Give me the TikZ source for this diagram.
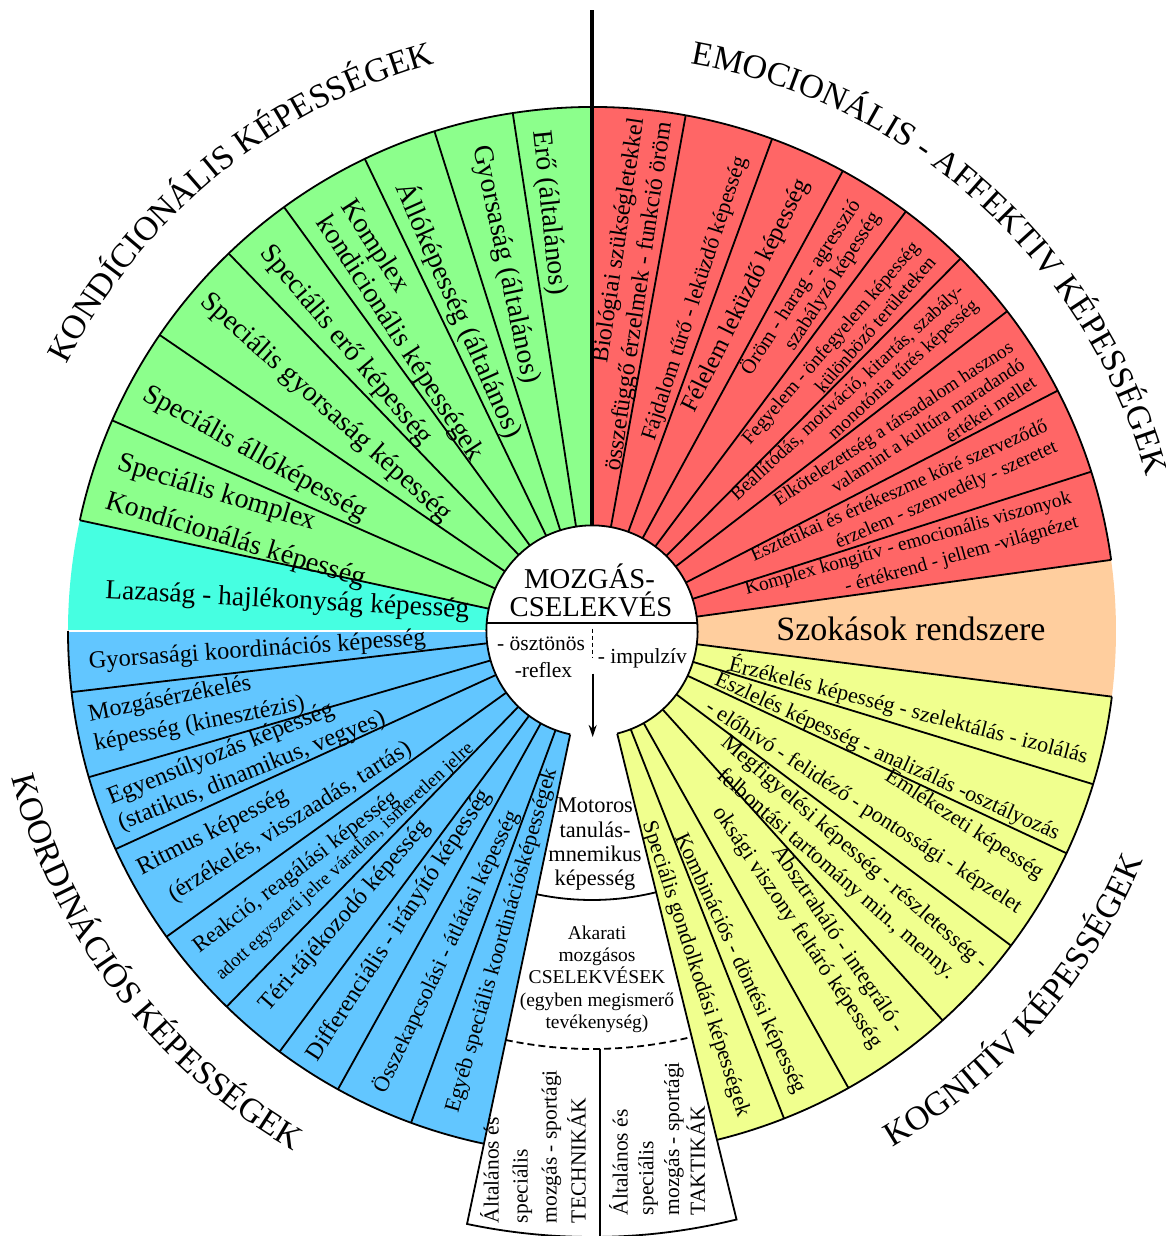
\documentclass[tikz,border=0pt]{standalone}
\usepackage{fontspec}
\setmainfont{Liberation Serif}
\usetikzlibrary{arrows.meta,decorations.text}

\definecolor{kondgreen}{HTML}{8CFF8C}
\definecolor{lazcyan}{HTML}{46FFE1}
\definecolor{koordblue}{HTML}{62C6FF}
\definecolor{kognyellow}{HTML}{F0FF8E}
\definecolor{szokpeach}{HTML}{FFCE9E}
\definecolor{emocred}{HTML}{FF6666}

\newcommand{\fsz}[2]{\fontsize{#1}{#2}\selectfont}

\begin{document}
\begin{tikzpicture}[x=1pt, y=1pt, line width=1.8pt,
    kond/.style={inner sep=0pt, anchor=west, font=\fsz{28}{31}},
    laz/.style={inner sep=0pt, anchor=west, font=\fsz{27.5}{30}},
    emo/.style={inner sep=0pt, anchor=east, align=right, font=\fsz{20}{24}},
    kogn/.style={inner sep=0pt, anchor=east, font=\fsz{22}{26}},
    koor/.style={inner sep=0pt, anchor=west, font=\fsz{24.5}{28}},
    ctr/.style={inner sep=0pt, anchor=base, font=\fsz{21.5}{24}},
    box/.style={inner sep=0pt, anchor=west, rotate=90, align=left},
    arctext/.style={decorate, decoration={text along path, text align=center, text={|\fsz{34}{34}|#1}}}]
  \useasboundingbox (-592,-605) rectangle (574,631);

  % Sectors
  \fill[kondgreen] (0,0) -- (90:524) arc[start angle=90, end angle=167.8, radius=524] -- cycle;
  \fill[lazcyan] (0,0) -- (167.8:524) arc[start angle=167.8, end angle=180, radius=524] -- cycle;
  \fill[koordblue] (0,0) -- (180:524) arc[start angle=180, end angle=258.1, radius=524] -- cycle;
  \fill[kognyellow] (0,0) -- (283.8:524) arc[start angle=283.8, end angle=352.8, radius=524] -- cycle;
  \fill[szokpeach] (0,0) -- (-7.2:524) arc[start angle=-7.2, end angle=7.8, radius=524] -- cycle;
  \fill[emocred] (0,0) -- (7.8:524) arc[start angle=7.8, end angle=90, radius=524] -- cycle;
  \draw[white, line width=2.5pt] (180:100) -- (180:530);

  % Dividers
  \foreach \a in {98.7,107.5,115.7,126,133.9,145.6,156.3,167.8,
                  79.7,69.9,61.4,53.2,45.3,37.6,27.3,17.7,7.8,
                  -7.2,-17,-25.1,-36.9,-48,-60.7,-68.5,
                  186.7,196.2,204.6,215.7,225.8,233.4,241,249.8}
    \draw (\a:105.6) -- (\a:524);
  \draw (7.8:524) arc[start angle=7.8, end angle=167.8, radius=524];
  \draw (180:524) arc[start angle=180, end angle=258.1, radius=524];
  \draw (283.8:524) arc[start angle=283.8, end angle=352.8, radius=524];

  % Column below the centre
  \draw (258.1:105.6) -- (258.1:606) arc[start angle=258.1, end angle=283.8, radius=606] -- (283.8:105.6);
  \draw (258.1:269) arc[start angle=258.1, end angle=283.8, radius=269];
  \draw[dash pattern=on 7pt off 4pt] (258.1:418) arc[start angle=258.1, end angle=283.8, radius=418];
  \draw (8,-418) -- (8,-606);

  % Centre
  \fill[white] (0,0) circle[radius=105.6];
  \draw (283.8:105.6) arc[start angle=-76.2, end angle=258.1, radius=105.6];
  \draw (-105.3,8.3) -- (105.3,8.3);
  \draw[line width=1.5pt, dash pattern=on 4pt off 3pt] (0.7,2.3) -- (0.7,-27);
  \draw[-{Stealth[length=12pt,width=8pt]}] (0.7,-42.7) -- (0.7,-106);
  \draw[line width=4.5pt] (90:105.6) -- (0,621);

  % Nodes
  \node[ctr, font=\fsz{28.7}{30}] (mozg) at (-2.5,42.3) {MOZGÁS-};
  \node[ctr, font=\fsz{28.7}{30}] (csel) at (-1,14) {CSELEKVÉS};
  \node[ctr] (osz) at (-51,-19.3) {- ösztönös};
  \node[ctr] (refl) at (-48.6,-46) {-reflex};
  \node[ctr] (imp) at (50.4,-32) {- impulzív};
  \foreach \t [count=\i] in {Motoros, tanulás-, mnemikus, képesség}
    \node[ctr, font=\fsz{22.4}{25}] (mot\i) at (3,-157.4-24.3*\i) {\t};
  \foreach \t [count=\i] in {Akarati, mozgásos, CSELEKVÉSEK, {(egyben megismerő}, {tevékenység)}}
    \node[ctr, font=\fsz{19.5}{22}] (akar\i) at (5,-286-22.3*\i) {\t};
  \node[box, font=\fsz{21.5}{29}] (tech) at (-59,-593) {Általános és\\speciális\\mozgás - sportági\\TECHNIKÁK};
  \node[box, font=\fsz{21.5}{25.7}] (takt) at (65,-585) {Általános és\\speciális\\mozgás - sportági\\TAKTIKÁK};

  % kondicionális
  \node[kond, rotate=-84] (kond1) at (95.9:504) {Erő (általános)};
  \node[kond, rotate=-78] (kond2) at (103:499) {Gyorsaság (általános)};
  \node[kond, rotate=-66] (kond3) at (112.9:486) {Állóképesség (általános)};
  \node[kond, rotate=-57, align=left, font=\fsz{28}{29}] (kond4) at (121.6:494) {Komplex\\kondicionális képességek};
  \node[kond, rotate=-50] (kond5) at (130.6:504) {Speciális erő képesség};
  \node[kond, rotate=-42] (kond6) at (139.4:512) {Speciális gyorsaság képesség};
  \node[kond, rotate=-29] (kond7) at (152:507) {Speciális állóképesség};
  \node[kond, rotate=-17, align=left, font=\fsz{28}{40}] (kond8) at (162.8:503) {Speciális komplex\\Kondícionálás képesség};
  \node[laz, rotate=-3] (laza) at (175.4:489) {Lazaság - hajlékonyság képesség};

  % emocionális
  \node[emo, rotate=81.6, font=\fsz{24}{28}] (emo1) at (83.35:515) {Biológiai szükségletekkel\\összefüggő érzelmek - funkció öröm};
  \node[emo, rotate=72, font=\fsz{22}{26}] (emo2) at (72.5:497) {Fájdalom tűrő - leküzdő képesség};
  \node[emo, rotate=63.6, font=\fsz{24.5}{28}] (emo3) at (64.8:498.3) {Félelem leküzdő képesség};
  \node[emo, rotate=57.3, font=\fsz{20.5}{23}] (emo4) at (57.14:505) {Öröm - harag - agresszió\\szabályzó képesség};
  \node[emo, rotate=49.25, font=\fsz{19.5}{22}] (emo5) at (48.91:505) {Fegyelem - önfegyelem képesség\\különböző területeken};
  \node[emo, rotate=42.65, font=\fsz{19}{21}] (emo6) at (41.62:505) {Beállítódás, motiváció, kitartás, szabály-\\monotónia tűrés képesség};
  \node[emo, rotate=33.45, font=\fsz{19}{21}] (emo7) at (31.93:508) {Elkötelezettség a társadalom hasznos\\valamint a kultúra maradandó\\értékei mellet};
  \node[emo, rotate=24, font=\fsz{19.5}{23}] (emo8) at (22.95:500) {Esztétikai és értékeszme köré szerveződő\\érzelem - szenvedély - szeretet};
  \node[emo, rotate=15.75, font=\fsz{19.5}{25}] (emo9) at (14:498) {Komplex kongitív - emocionális viszonyok\\- értékrend - jellem -világnézet};
  \node[inner sep=0pt, anchor=base, font=\fsz{34}{40}] (szok) at (319,-9.7) {Szokások rendszere};

  % kognitív
  \node[kogn, rotate=-14.5] (kogn1) at (-14.2:512) {Érzékelés képesség - szelektálás - izolálás};
  \node[kogn, rotate=-24.5] (kogn2) at (-23.5:510) {Észlelés képesség - analizálás -osztályozás};
  \node[kogn, rotate=-33, align=right, font=\fsz{22}{40}] (kogn3) at (-30.8:511) {Emlékezeti képesség\\- előhívó - felidéző - pontossági - képzelet};
  \node[kogn, rotate=-41, anchor=center, align=center, font=\fsz{22.5}{28}] (kogn4) at (-42.6:344) {Megfigyelési képesség - részletesség -\\felbontási tartomány min., menny.};
  \node[kogn, rotate=-56, align=right, font=\fsz{22.5}{27}] (kogn5) at (-54:505) {Absztraháló - integráló -\\oksági viszony feltáró képesség};
  \node[kogn, rotate=-65] (kogn6) at (-65.8:507) {Kombinációs - döntési képesség};
  \node[kogn, rotate=-72] (kogn7) at (-72.7:509) {Speciális gondolkodási képességek};

  % koordinációs
  \node[koor, rotate=4] (koord1) at (183.6:505) {Gyorsasági koordinációs képesség};
  \node[koor, rotate=11, align=left, font=\fsz{24}{30}] (koord2) at (191.2:511) {Mozgásérzékelés\\képesség (kinesztézis)};
  \node[koor, rotate=22, align=left] (koord3) at (200.8:512) {Egyensúlyozás képesség\\(statikus, dinamikus, vegyes)};
  \node[koor, rotate=27] (koord4) at (207.8:513) {Ritmus képesség};
  \node[koor, rotate=32, font=\fsz{24}{28}] (koord4b) at (212.3:499) {(érzékelés, visszaadás, tartás)};
  \node[koor, rotate=37.5, font=\fsz{22.5}{26}] (koord5) at (218.8:509) {Reakció, reagálási képesség};
  \node[koor, rotate=42.5, font=\fsz{19}{22}] (koord5b) at (222.9:510) {adott egyszerű jelre váratlan, ismeretlen jelre};
  \node[koor, rotate=49, font=\fsz{24}{28}] (koord6) at (229.1:501) {Téri-tájékozodó képesség};
  \node[koor, rotate=57, font=\fsz{24}{28}] (koord7) at (236.9:512) {Differenciális - irányító képesség};
  \node[koor, rotate=64.5, font=\fsz{22}{26}] (koord8) at (245.2:508) {Összekapcsolási - átlátási képesség};
  \node[koor, rotate=74, font=\fsz{22}{26}] (koord9) at (253.9:502) {Egyéb speciális koordinációsképességek};

  % Titles round the rim
  \path[arctext={KONDÍCIONÁLIS KÉPESSÉGEK}] (160.3:589) arc[start angle=160.3, end angle=98.3, radius=589];
  \path[arctext={EMOCIONÁLIS - AFFEKTIV KÉPESSÉGEK}] (84.85:576) arc[start angle=84.85, end angle=10.85, radius=576];
  \path[arctext={KOORDINÁCIÓS KÉPESSÉGEK}] (185:599) arc[start angle=185, end angle=249.3, radius=599];
  \path[arctext={KOGNITÍV KÉPESSÉGEK}] (-70:597) arc[start angle=-70, end angle=-12.4, radius=597];
\end{tikzpicture}
\end{document}
